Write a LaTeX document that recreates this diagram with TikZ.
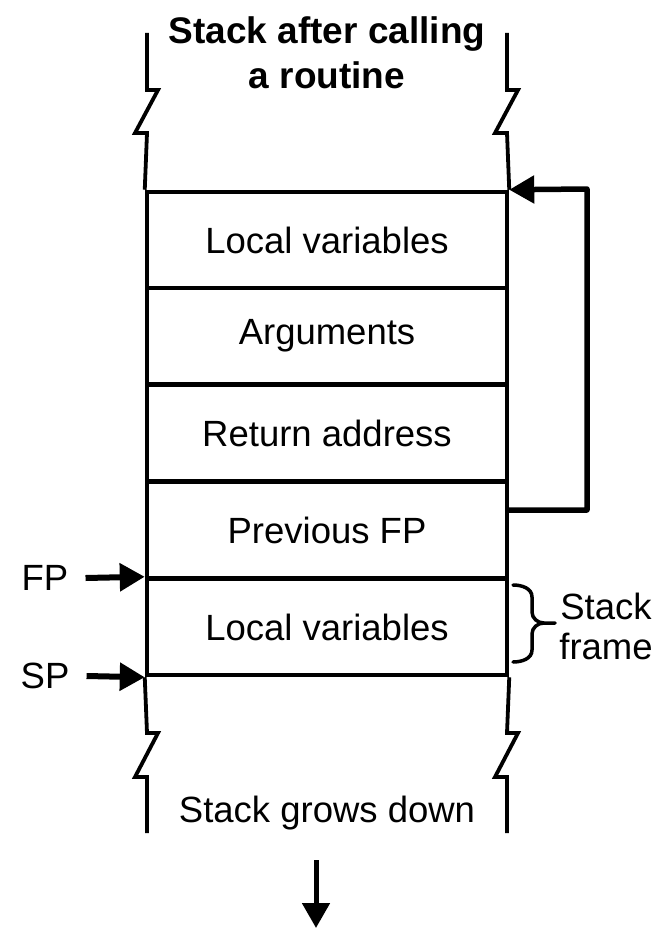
\documentclass[tikz,border=0pt]{standalone}
\usepackage{fontspec}
\setmainfont{Liberation Sans}
\usetikzlibrary{arrows.meta}
\begin{document}
\begin{tikzpicture}[x=1pt,y=-1pt,
  cell/.style={draw,line width=4.5pt,minimum width=360pt,minimum height=96pt,inner sep=0pt,font=\fontsize{36.5}{40}\selectfont},
  lbl/.style={inner sep=0pt,font=\fontsize{36.5}{40}\selectfont,align=center},
  wall/.style={line width=3.8pt},
  arr/.style={line width=6pt,-{Triangle[length=25pt,width=27pt]}}]
\useasboundingbox (0,0) rectangle (660,928);
% stack cells
\node[cell] (lv1) at (327,240) {Local variables};
\node[cell] (args) at (327,336) {Arguments};
\node[cell] (ret) at (327,433) {Return address};
\node[cell] (pfp) at (327,530) {Previous FP};
\node[cell] (lv2) at (327,627) {Local variables};
% top walls with breaks
\draw[wall] (lv1.north west) -- (147,133) -- (135,133) -- (158,90) -- (147,90) -- (147,33);
\draw[wall] (lv1.north east) -- (507,133) -- (495,133) -- (518,90) -- (507,90) -- (507,33);
% bottom walls with breaks
\draw[wall] (lv2.south west) -- (147,733) -- (158,733) -- (135,777) -- (147,777) -- (147,833);
\draw[wall] (lv2.south east) -- (507,733) -- (518,733) -- (495,777) -- (507,777) -- (507,833);
% title
\node[lbl,font=\fontsize{37}{45}\selectfont\bfseries] (title) at (327,53) {Stack after calling\\a routine};
% frame pointer link
\coordinate (pfpr) at (507,510);
\draw[arr,line width=5.5pt,line join=round] (pfpr) -- (587,510) -- (587,189) -- (lv1.north east);
% FP and SP
\node[lbl] (fp) at (45,578) {FP};
\node[lbl] (sp) at (45,676) {SP};
\draw[arr] (fp.east) ++(17,0) coordinate (fps) (fps) -- (lv2.north west);
\draw[arr] (sp.east) ++(17,0) coordinate (sps) (sps) -- (lv2.south west);
% brace
\draw[line width=3.5pt,line cap=round] (513,585) to[out=0,in=90] (532,597) -- (532,612)
  to[out=-90,in=180] (544,623) -- (555,623)
  (544,623) to[out=180,in=90] (532,634) -- (532,650) to[out=-90,in=0] (513,662);
\node[lbl] (sf) at (606,626) {Stack\\frame};
% bottom
\node[lbl] (grow) at (327,813) {Stack grows down};
\coordinate (ga) at (316,860);
\coordinate (gb) at (316,928);
\draw[arr,line width=5pt] (ga) -- (gb);
\end{tikzpicture}
\end{document}
